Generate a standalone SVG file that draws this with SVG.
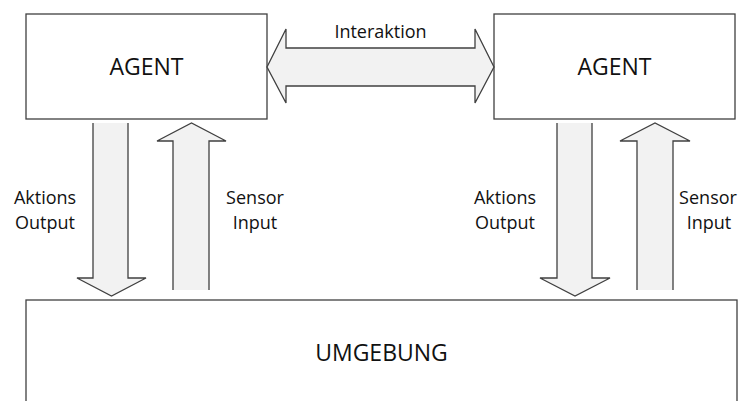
<svg xmlns="http://www.w3.org/2000/svg" width="738" height="401" viewBox="0 0 738 401">
  <style>
    .box { fill: #ffffff; stroke: #404040; stroke-width: 1.3; }
    .arrow-fill { fill: #f2f2f2; stroke: none; }
    .arrow-line { fill: none; stroke: #404040; stroke-width: 1.3; stroke-linejoin: miter; }
    .big { font-family: "Open Sans", "DejaVu Sans", sans-serif; font-size: 23px; fill: #111111; text-anchor: middle; }
    .lbl { font-family: "Open Sans", "DejaVu Sans", sans-serif; font-size: 18px; fill: #111111; text-anchor: middle; }
  </style>
  <rect width="738" height="401" fill="#ffffff"/>

  <!-- Agent on the left -->
  <g id="agent-left">
    <rect class="box" x="26" y="14" width="241" height="105"/>
    <text class="big" x="146.5" y="75">AGENT</text>
  </g>

  <!-- Agent on the right -->
  <g id="agent-right">
    <rect class="box" x="494" y="14" width="241" height="105"/>
    <text class="big" x="614.5" y="75">AGENT</text>
  </g>

  <!-- Environment -->
  <g id="umgebung">
    <rect class="box" x="26" y="300" width="711" height="130"/>
    <text class="big" x="381.5" y="361">UMGEBUNG</text>
  </g>

  <g id="connectors">
    <!-- Interaction between the two agents -->
    <g id="interaktion">
      <polygon class="arrow-fill" points="267,67 286,29 286,48 475,48 475,29 494,67 475,103 475,86 286,86 286,103"/>
      <polygon class="arrow-line" points="267,67 286,29 286,48 475,48 475,29 494,67 475,103 475,86 286,86 286,103"/>
      <text class="lbl" x="380.5" y="38">Interaktion</text>
    </g>

    <!-- Left agent: action output (down) -->
    <g id="aktion-left">
      <polygon class="arrow-fill" points="93,123 128,123 128,278 146,278 111.5,296 77,278 93,278"/>
      <path class="arrow-line" d="M93,123 V278 H77 L111.5,296 L146,278 H128 V123"/>
      <text class="lbl" x="45" y="204">Aktions</text>
      <text class="lbl" x="45" y="229">Output</text>
    </g>

    <!-- Left agent: sensor input (up) -->
    <g id="sensor-left">
      <polygon class="arrow-fill" points="173,290 173,141 157,141 191.5,123 226,141 209,141 209,290"/>
      <path class="arrow-line" d="M173,290 V141 H157 L191.5,123 L226,141 H209 V290"/>
      <text class="lbl" x="255" y="204">Sensor</text>
      <text class="lbl" x="255" y="229">Input</text>
    </g>

    <!-- Right agent: action output (down) -->
    <g id="aktion-right">
      <polygon class="arrow-fill" points="557,123 592,123 592,278 610,278 575,296 540,278 557,278"/>
      <path class="arrow-line" d="M557,123 V278 H540 L575,296 L610,278 H592 V123"/>
      <text class="lbl" x="505" y="204">Aktions</text>
      <text class="lbl" x="505" y="229">Output</text>
    </g>

    <!-- Right agent: sensor input (up) -->
    <g id="sensor-right">
      <polygon class="arrow-fill" points="637,290 637,141 620,141 655,123 690,141 673,141 673,290"/>
      <path class="arrow-line" d="M637,290 V141 H620 L655,123 L690,141 H673 V290"/>
      <text class="lbl" x="708" y="204">Sensor</text>
      <text class="lbl" x="709" y="229">Input</text>
    </g>
  </g>
</svg>
